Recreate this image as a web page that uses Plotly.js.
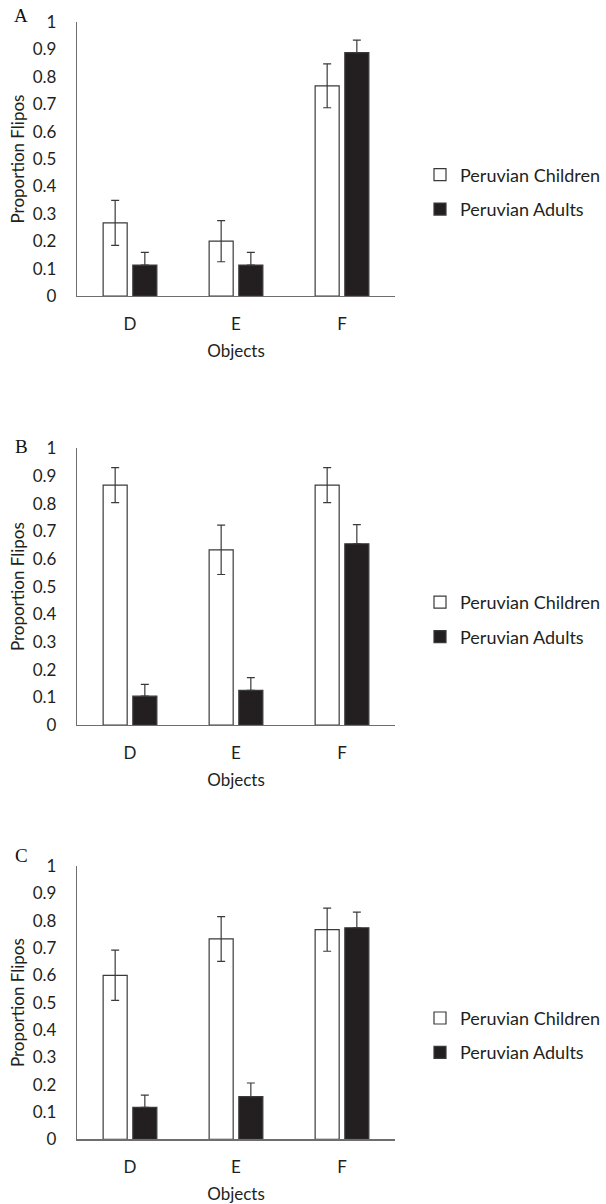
<!DOCTYPE html>
<html>
<head>
<meta charset="utf-8">
<script src="https://cdn.plot.ly/plotly-3.0.1.min.js"></script>
<style>html,body{margin:0;padding:0;background:#fff;}#chart{width:606px;height:1204px;}</style>
</head>
<body>
<div id="chart"></div>
<script>
// ---- data ----
const categories = ['D', 'E', 'F'];
const seriesNames = ['Peruvian Children', 'Peruvian Adults'];
const panelLetters = ['A', 'B', 'C'];

const aChildren = [0.267, 0.200, 0.767];
const aChildrenErr = [0.082, 0.075, 0.080];
const aAdults = [0.113, 0.113, 0.888];
const aAdultsErr = [0.046, 0.046, 0.046];

const bChildren = [0.867, 0.633, 0.867];
const bChildrenErr = [0.063, 0.089, 0.063];
const bAdults = [0.104, 0.125, 0.655];
const bAdultsErr = [0.043, 0.046, 0.069];

const cChildren = [0.600, 0.733, 0.767];
const cChildrenErr = [0.092, 0.082, 0.079];
const cAdults = [0.117, 0.156, 0.774];
const cAdultsErr = [0.045, 0.050, 0.057];

const yTickVals = [0, 0.1, 0.2, 0.3, 0.4, 0.5, 0.6, 0.7, 0.8, 0.9, 1];
const yTickText = ['0', '0.1', '0.2', '0.3', '0.4', '0.5', '0.6', '0.7', '0.8', '0.9', '1'];
const yTitle = 'Proportion Flipos';
const xTitle = 'Objects';

// ---- style ----
const H = 1204, W = 606;
const FONT = 'Lato, "Open Sans", sans-serif';
const TXT = '#231f20';
const AX = '#6e6e6e';
const OUT = '#3a3a3a';
const BLACK = '#231f20';

// pixel positions of each panel (top = value 1, bottom = value 0)
const panels = [
  {top: 22, bottom: 296, legY: 192, letterY: 16},
  {top: 448.3, bottom: 725, legY: 619.5, letterY: 447},
  {top: 866, bottom: 1139.3, legY: 1035.3, letterY: 855}
];
const dataSets = [
  [aChildren, aChildrenErr, aAdults, aAdultsErr],
  [bChildren, bChildrenErr, bAdults, bAdultsErr],
  [cChildren, cChildrenErr, cAdults, cAdultsErr]
];

const traces = [];
const layout = {
  width: W, height: H,
  margin: {l: 77, r: 186, t: 0, b: 0},
  paper_bgcolor: '#fff', plot_bgcolor: '#fff',
  barmode: 'group', bargap: 0.44, bargroupgap: 0.19,
  font: {family: FONT, size: 17, color: TXT},
  annotations: []
};

dataSets.forEach((d, i) => {
  const sfx = i === 0 ? '' : String(i + 1);
  const xa = 'x' + sfx, ya = 'y' + sfx;
  const leg = 'legend' + sfx;
  traces.push({
    type: 'bar', x: categories, y: d[0], name: seriesNames[0],
    xaxis: xa, yaxis: ya, legend: leg,
    legendgroup: 'c' + i,
    marker: {color: '#ffffff', line: {color: OUT, width: 1.2}},
    error_y: {type: 'data', array: d[1], visible: true, color: OUT, thickness: 1.2, width: 4},
    hoverinfo: 'skip'
  });
  traces.push({
    type: 'bar', x: categories, y: d[2], name: seriesNames[1],
    xaxis: xa, yaxis: ya, legend: leg,
    legendgroup: 'a' + i,
    marker: {color: BLACK, line: {color: OUT, width: 1.2}},
    // lower half hidden behind the black bar in the original
    error_y: {type: 'data', symmetric: false, array: d[3], arrayminus: d[3].map(() => 0),
              visible: true, color: OUT, thickness: 1.2, width: 4},
    hoverinfo: 'skip'
  });
  const p = panels[i];
  layout['xaxis' + sfx] = {
    anchor: ya, domain: [0, 1], type: 'category', range: [-0.5, 2.5],
    showline: true, linecolor: AX, linewidth: 1.2, showgrid: false, zeroline: false,
    ticks: 'outside', ticklen: 12, tickcolor: 'rgba(0,0,0,0)',
    tickfont: {family: FONT, size: 17, color: TXT},
    title: {text: xTitle, font: {family: FONT, size: 17, color: TXT}, standoff: 12},
    fixedrange: true
  };
  layout['yaxis' + sfx] = {
    anchor: xa, domain: [1 - p.bottom / H, 1 - p.top / H], range: [0, 1],
    tickvals: yTickVals, ticktext: yTickText,
    showline: true, linecolor: AX, linewidth: 1.2, showgrid: false, zeroline: false,
    ticks: 'outside', ticklen: 16, tickcolor: 'rgba(0,0,0,0)',
    tickfont: {family: FONT, size: 17, color: TXT},
    title: {text: yTitle, font: {family: FONT, size: 17, color: TXT}, standoff: 3},
    fixedrange: true
  };
  layout[leg] = {
    x: 1.079, xanchor: 'left', y: 1 - p.legY / H, yanchor: 'middle',
    xref: 'paper', yref: 'paper',
    traceorder: 'grouped', tracegroupgap: 8,
    font: {family: FONT, size: 18, color: TXT},
    bgcolor: 'rgba(0,0,0,0)', itemwidth: 30
  };
  layout.annotations.push({
    text: panelLetters[i], xref: 'paper', yref: 'paper',
    x: (17 - 77) / (W - 77 - 186), y: 1 - p.letterY / H,
    xanchor: 'center', yanchor: 'middle', showarrow: false,
    font: {family: '"Liberation Serif", "DejaVu Serif", serif', size: 19, color: '#111'}
  });
});

Plotly.newPlot('chart', traces, layout, {staticPlot: true, displayModeBar: false});
</script>
</body>
</html>
